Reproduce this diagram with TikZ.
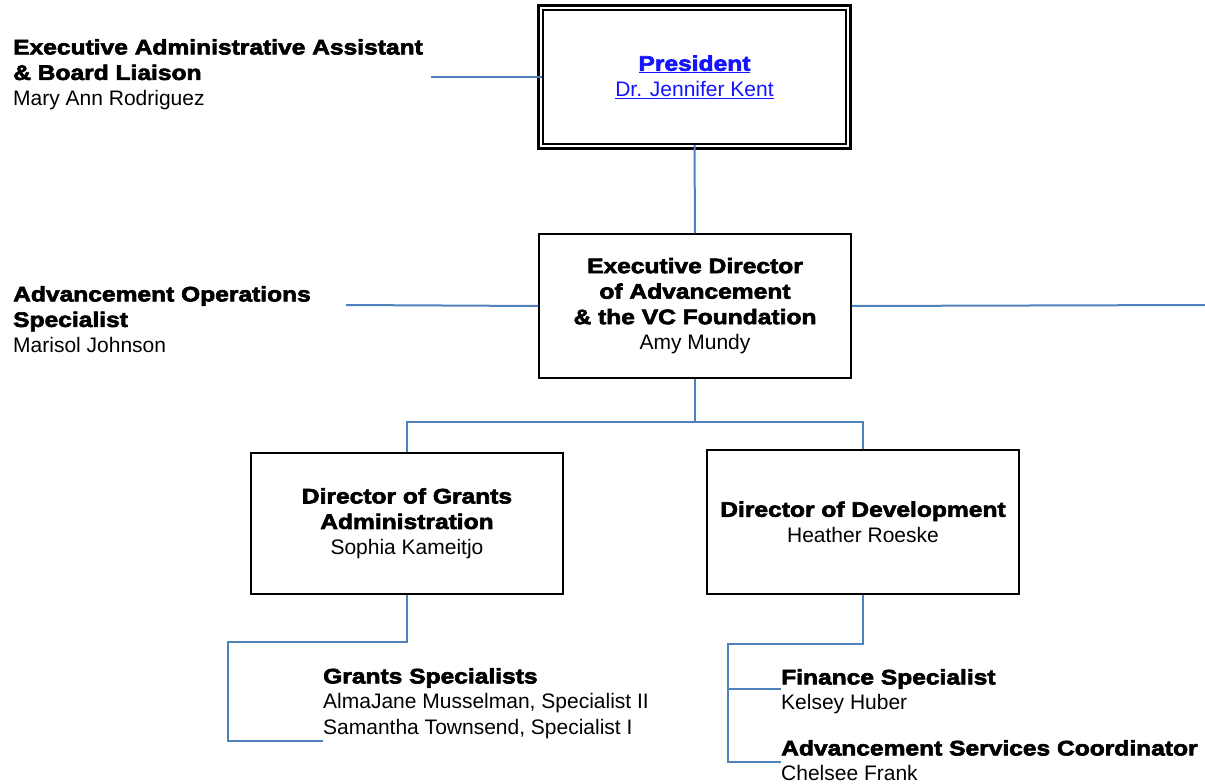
\documentclass[tikz,border=0pt]{standalone}
\usepackage{fontspec}
\setmainfont{Liberation Sans}[BoldFeatures={FakeStretch=1.17,FakeBold=3}]
\usepackage{tikz}
\usetikzlibrary{positioning, calc}
\definecolor{linkblue}{RGB}{20,20,255}
\definecolor{lineblue}{RGB}{79,129,189}

\begin{document}
\begin{tikzpicture}[
    x=1pt, y=-1pt,
    every node/.style={font=\fontsize{21}{25.5}\selectfont},
    box/.style={draw, line width=1.5pt, minimum width=312pt, minimum height=144pt, align=center, inner sep=0pt},
    side/.style={align=left, anchor=north west, inner sep=0pt},
    link/.style={draw=lineblue, line width=2pt}
]
\useasboundingbox (0,0) rectangle (1205,784);

\node [box, line width=2pt, minimum width=303pt, minimum height=134pt] (pres) at (694.5,77)
    {\textcolor{linkblue}{\underline{\textbf{President}}}\\
     \textcolor{linkblue}{\underline{Dr. Jennifer Kent}}};
\draw [line width=3pt] ($(pres.north west)+(-3.5pt,3.5pt)$) rectangle ($(pres.south east)+(3.5pt,-3.5pt)$);

\node [box] (exec) at (695,306)
    {\textbf{Executive Director}\\\textbf{of Advancement}\\\textbf{\& the VC Foundation}\\Amy Mundy};
\node [box, minimum height=141pt] (grants) at (407,523.5)
    {\textbf{Director of Grants}\\\textbf{Administration}\\Sophia Kameitjo};
\node [box] (dev) at (863,522)
    {\textbf{Director of Development}\\Heather Roeske};

\node [side] (assist) at (13,39)
    {\textbf{Executive Administrative Assistant}\\\textbf{\& Board Liaison}\\Mary Ann Rodriguez};
\node [side] (ops) at (13,286)
    {\textbf{Advancement Operations}\\\textbf{Specialist}\\Marisol Johnson};
\node [side] (gspec) at (323,668)
    {\textbf{Grants Specialists}\\AlmaJane Musselman, Specialist II\\Samantha Townsend, Specialist I};
\node [side] (fin) at (781,669)
    {\textbf{Finance Specialist}\\Kelsey Huber};
\node [side] (asc) at (781,740)
    {\textbf{Advancement Services Coordinator}\\Chelsee Frank};

\coordinate (assistEnd) at (431,77);
\coordinate (opsEnd) at (346,305);
\coordinate (rightEnd) at (1205,305);
\coordinate (gsCorner) at (228,741);
\coordinate (finTick) at (728,689);
\coordinate (ascTick) at (728,762);

\draw [link] (pres.west) -- (assistEnd);
\draw [link] (pres.south) -- (exec.north);
\draw [link] (exec.west) -- (opsEnd);
\draw [link] (exec.east) -- (rightEnd);
\draw [link] (exec.south) -- ++(0,43) -| (grants.north);
\draw [link] (exec.south) -- ++(0,43) -| (dev.north);
\draw [link] (grants.south) -- ++(0,47) -| (gsCorner) -- (gsCorner -| gspec.west);
\draw [link] (dev.south) -- ++(0,49) -| (ascTick) -- (ascTick -| asc.west);
\draw [link] (finTick) -- (finTick -| fin.west);
\end{tikzpicture}
\end{document}
